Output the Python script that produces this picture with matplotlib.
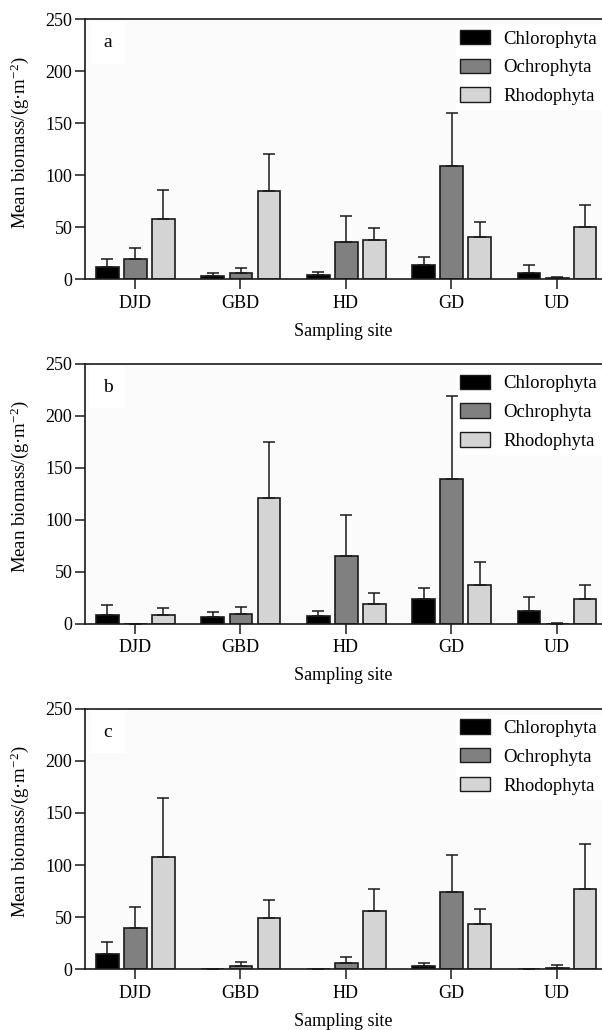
import matplotlib
matplotlib.use("Agg")
import matplotlib.pyplot as plt
import numpy as np

plt.rcParams['font.family'] = ['Liberation Serif', 'DejaVu Serif']
plt.rcParams['mathtext.fontset'] = 'custom'
plt.rcParams['mathtext.rm'] = 'Liberation Serif'
plt.rcParams['mathtext.it'] = 'Liberation Serif:italic'

sites = ['DJD', 'GBD', 'HD', 'GD', 'UD']
groups = ['Chlorophyta', 'Ochrophyta', 'Rhodophyta']
panels = ['a', 'b', 'c']

# means [panel][group][site]
means = {
    'a': {'Chlorophyta': [12.2, 3.2, 3.8, 13.5, 6.1],
          'Ochrophyta':  [19.6, 6.4, 35.6, 109.3, 1.0],
          'Rhodophyta':  [57.7, 85.3, 37.8, 40.4, 50.6]},
    'b': {'Chlorophyta': [9.0, 6.7, 7.7, 24.0, 12.8],
          'Ochrophyta':  [0.0, 9.9, 65.6, 139.6, 0.2],
          'Rhodophyta':  [8.6, 121.6, 19.5, 37.8, 24.4]},
    'c': {'Chlorophyta': [15.0, 0.0, 0.3, 3.2, 0.0],
          'Ochrophyta':  [39.6, 3.5, 5.8, 74.2, 1.6],
          'Rhodophyta':  [107.7, 49.6, 56.3, 43.2, 77.4]},
}
# upper ends of error bars
err_top = {
    'a': {'Chlorophyta': [19.6, 6.4, 7.0, 21.2, 14.1],
          'Ochrophyta':  [29.8, 11.2, 60.9, 160.0, 2.2],
          'Rhodophyta':  [85.9, 120.2, 49.7, 54.8, 71.5]},
    'b': {'Chlorophyta': [18.6, 11.2, 12.8, 34.6, 25.9],
          'Ochrophyta':  [0.0, 16.6, 104.7, 219.0, 1.0],
          'Rhodophyta':  [15.0, 175.4, 29.4, 59.2, 37.8]},
    'c': {'Chlorophyta': [26.5, 0.0, 0.3, 6.1, 0.0],
          'Ochrophyta':  [60.1, 7.4, 11.8, 109.7, 3.8],
          'Rhodophyta':  [164.6, 66.5, 77.4, 57.5, 119.9]},
}

colors = {'Chlorophyta': '#000000', 'Ochrophyta': '#808080', 'Rhodophyta': '#d4d4d4'}
offsets = {'Chlorophyta': -0.262, 'Ochrophyta': 0.005, 'Rhodophyta': 0.27}
width = 0.215

fig = plt.figure(figsize=(6.02, 10.30), dpi=100)
W, H = 602.0, 1030.0
axes_px = [(19.3, 279.3), (364.0, 624.0), (708.7, 969.3)]
left_px = 85.0

x = np.arange(len(sites))
for p, (top, bot) in zip(panels, axes_px):
    ax = fig.add_axes([left_px / W, 1 - bot / H, 1 - left_px / W, (bot - top) / H])
    ax.set_facecolor('#fbfbfb')
    for g in groups:
        m = np.array(means[p][g])
        e = np.array(err_top[p][g]) - m
        ax.bar(x + offsets[g], m, width, color=colors[g], edgecolor='#1a1a1a',
               linewidth=1.2, label=g, zorder=2)
        ax.errorbar(x + offsets[g], m, yerr=[np.zeros_like(e), e], fmt='none',
                    ecolor='#1a1a1a', elinewidth=1.1, capsize=4.3, capthick=1.1, zorder=3)
    ax.set_xlim(-0.474, 4.43)
    ax.set_ylim(0, 250)
    ax.set_yticks([0, 50, 100, 150, 200, 250])
    ax.set_xticks(x)
    ax.set_xticklabels(sites)
    ax.tick_params(axis='both', direction='out', length=7, width=1.1, labelsize=13,
                   color='#1a1a1a')
    ax.tick_params(axis='y', pad=2)
    ax.tick_params(axis='x', pad=4)
    for s in ['left', 'bottom', 'top']:
        ax.spines[s].set_linewidth(1.2)
        ax.spines[s].set_color('#1a1a1a')
    ax.spines['right'].set_visible(False)
    ax.set_xlabel('Sampling site', fontsize=13, labelpad=8)
    ax.set_ylabel(r'Mean biomass/(g·m$^{-2}$)', fontsize=13.5)
    ax.yaxis.set_label_coords(-0.104, 0.527)
    ax.text(0.044, 0.91, p, transform=ax.transAxes, fontsize=14, va='center', ha='center',
            bbox=dict(facecolor='white', edgecolor='none', pad=9), zorder=1)
    leg = ax.legend(loc='upper right', bbox_to_anchor=(1.0, 1 - 6 / 260), fontsize=13.5,
                    frameon=True, fancybox=False, framealpha=1, edgecolor='none',
                    handlelength=1.55, handleheight=0.8, labelspacing=0.59,
                    handletextpad=0.75, borderaxespad=0.0, borderpad=0.25)
    leg.set_zorder(1)
    for h in leg.legend_handles:
        h.set_linewidth(1.0)

fig.savefig('out.png', dpi=100)
